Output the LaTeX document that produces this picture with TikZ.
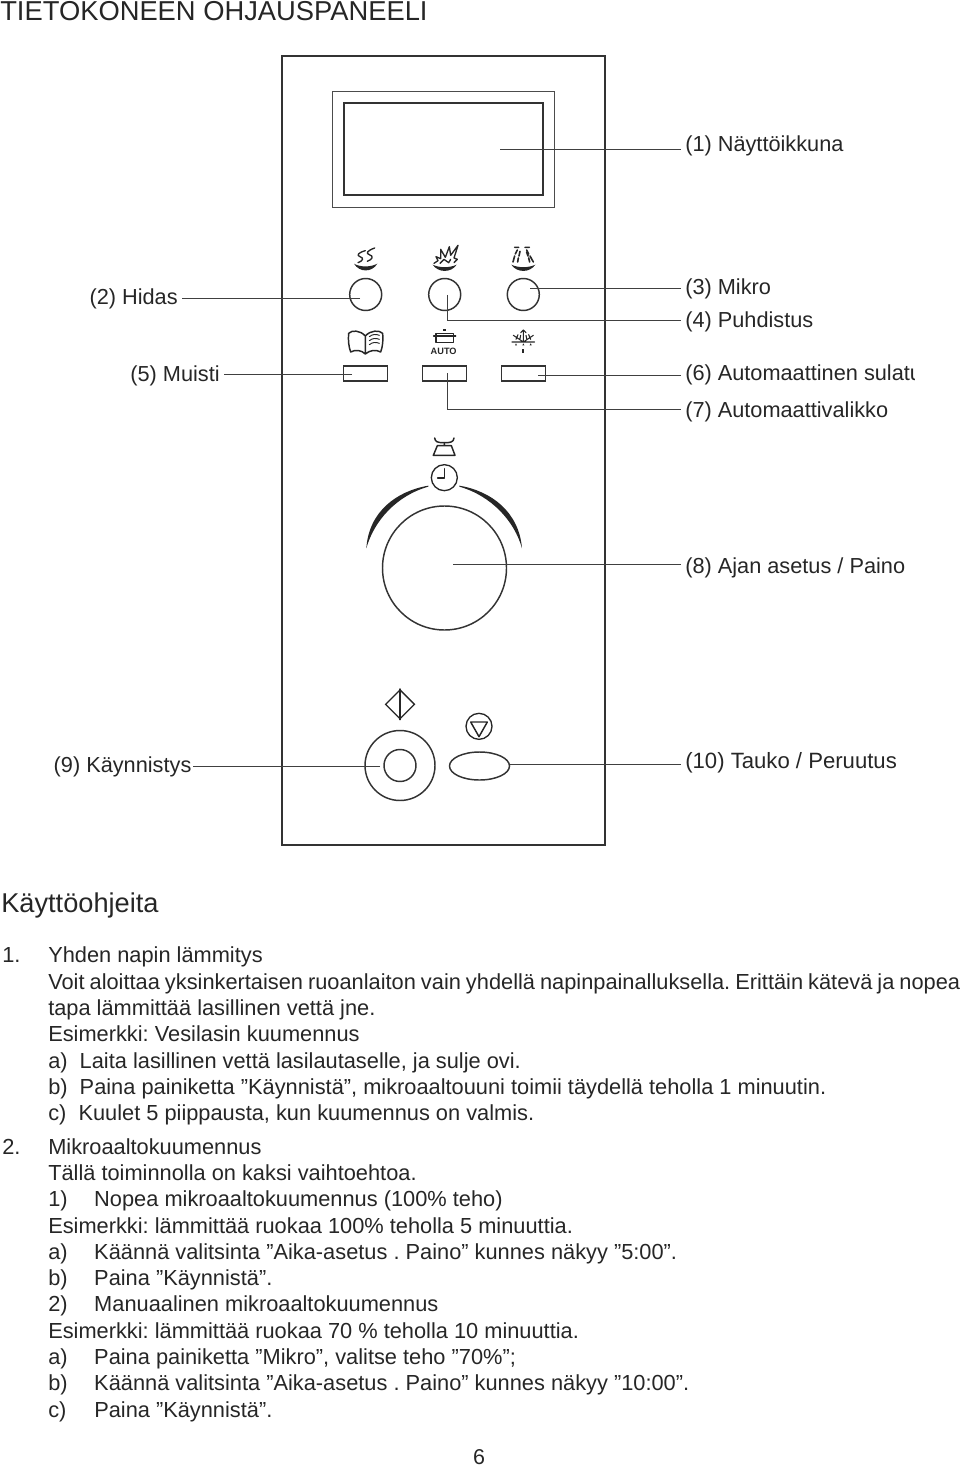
\documentclass[tikz,border=0pt]{standalone}
\usepackage{fontspec}
\setsansfont{Liberation Sans}
\usetikzlibrary{positioning,calc,shapes.geometric}
\newcommand{\itemno}[1]{\makebox[34.5pt][l]{#1}}
\frenchspacing

\begin{document}
\begin{tikzpicture}[
    x=0.75pt, y=-0.75pt,
    font=\sffamily,
    every node/.style={text=black!85},
    panelLine/.style={draw=black!80, line width=1.1pt},
    iconLine/.style={draw=black!85, line width=1pt, line cap=round, line join=round},
    leader/.style={draw=black!75, line width=0.7pt},
    roundBtn/.style={circle, panelLine, minimum size=24pt, inner sep=0pt},
    rectBtn/.style={rectangle, panelLine, minimum width=33pt, minimum height=11pt, inner sep=0pt},
    partLabel/.style={font=\sffamily\fontsize{16.3}{18}\selectfont, text height=12pt, text depth=3pt, inner sep=3pt},
    bodyText/.style={font=\sffamily\fontsize{16.35}{19.73}\selectfont, align=left, inner sep=0pt, anchor=north west}
]
\useasboundingbox (0,0) rectangle (960,1469);

% Headings
\node[font=\sffamily\fontsize{20.5}{22}\selectfont, anchor=base west, inner sep=0pt] (title) at (0,20.5) {TIETOKONEEN OHJAUSPANEELI};
\node[font=\sffamily\fontsize{20.4}{22}\selectfont, anchor=base west, inner sep=0pt] (usage) at (1,912) {Käyttöohjeita};

% Panel and display
\node[rectangle, panelLine, line width=1.5pt, minimum width=242pt, minimum height=591pt, inner sep=0pt] (panel) at (443.5,450.5) {};
\node[rectangle, draw=black!70, line width=0.6pt, minimum width=167pt, minimum height=87pt, inner sep=0pt] (frame) at (443.5,149) {};
\node[rectangle, panelLine, line width=1.5pt, minimum width=149pt, minimum height=69pt, inner sep=0pt] (display) at (443.5,149) {};

% Buttons
\node[roundBtn] (btnSlow) at (365.7,294.5) {};
\node[roundBtn] (btnMicro) at (444.7,294.5) {};
\node[roundBtn] (btnClean) at (523.3,294.5) {};
\node[rectBtn] (btnMemory) at (365.7,373.5) {};
\node[rectBtn] (btnAuto) at (444.7,373.5) {};
\node[rectBtn] (btnDefrost) at (523.5,373.5) {};
\node[circle, panelLine, minimum size=93pt, inner sep=0pt] (dial) at (444.5,568) {};
\node[circle, panelLine, minimum size=52.5pt, inner sep=0pt] (btnStart) at (400,765.5) {};
\node[circle, panelLine, minimum size=24pt, inner sep=0pt] (btnStartIn) at (400,765.5) {};
\node[ellipse, panelLine, minimum width=45pt, minimum height=21pt, inner sep=0pt] (btnStop) at (479.5,766) {};

% Labels
\node[partLabel, anchor=west] (lblDisplay) at (681,145.5) {(1) Näyttöikkuna};
\node[partLabel, anchor=east] (lblSlow) at (182,298.5) {(2) Hidas};
\node[partLabel, anchor=west] (lblMicro) at (681,289) {(3) Mikro};
\node[partLabel, anchor=west] (lblClean) at (681,321.5) {(4) Puhdistus};
\node[partLabel, anchor=east] (lblMemory) at (224,375) {(5) Muisti};
\begin{scope}
    \clip (600,350) rectangle (914,395);
    \node[partLabel, anchor=west] (lblDefrost) at (681,374.5) {(6) Automaattinen sulatus};
\end{scope}
\node[partLabel, anchor=west] (lblAuto) at (681,411) {(7) Automaattivalikko};
\node[partLabel, anchor=west] (lblTime) at (681,567) {(8) Ajan asetus / Paino};
\node[partLabel, anchor=east, inner sep=1pt] (lblStart) at (193,766.5) {(9) Käynnistys};
\node[partLabel, anchor=west, font=\sffamily\fontsize{16.6}{18}\selectfont] (lblStop) at (681,762.5) {(10) Tauko / Peruutus};

% Leader ends inside the controls
\coordinate (endDisplay) at (500,149);
\coordinate (endSlow) at (360,298);
\coordinate (endMicro) at (447,295);
\coordinate (tapMicro) at (681,320);
\coordinate (endClean) at (530,288);
\coordinate (endMemory) at (352,374.7);
\coordinate (endDefrost) at (538,375);
\coordinate (endAuto) at (447,373);
\coordinate (tapAuto) at (681,409);
\coordinate (endTime) at (453,564);
\coordinate (endStart) at (380,766);
\coordinate (endStop) at (509.5,764);

% Leaders
\draw[leader] (endDisplay) -- (endDisplay -| lblDisplay.west);
\draw[leader] (endSlow) -- (endSlow -| lblSlow.east);
\draw[leader] (endMicro) |- (tapMicro);
\draw[leader] (endClean) -- (endClean -| lblMicro.west);
\draw[leader] (endMemory) -- (endMemory -| lblMemory.east);
\draw[leader] (endDefrost) -- (endDefrost -| lblDefrost.west);
\draw[leader] (endAuto) |- (tapAuto);
\draw[leader] (endTime) -- (endTime -| lblTime.west);
\draw[leader] (endStart) -- (endStart -| lblStart.east);
\draw[leader] (endStop) -- (endStop -| lblStop.west);

% Top icons, in crop coordinates
\begin{scope}[shift={(280,230)}, x=0.25pt, y=-0.25pt]
    % slow
    \draw[iconLine] (256,62) .. controls (235,68) and (228,76) .. (240,80) .. controls (252,84) and (250,92) .. (234,98);
    \draw[iconLine] (284,54) .. controls (262,62) and (256,70) .. (268,74) .. controls (282,78) and (278,88) .. (262,94);
    \fill[black!85] (222,101) .. controls (240,112) and (272,112) .. (292,101) .. controls (276,128) and (238,128) .. (222,101) -- cycle;
    % micro
    \draw[iconLine] (462,100) -- (474,92) -- (468,80) -- (482,86) -- (482,58) -- (496,82) -- (508,50) -- (512,76) -- (534,46) -- (522,84) -- (532,88) -- (522,98);
    \draw[iconLine] (480,100) -- (492,88) -- (506,98) -- (512,88);
    \fill[black!85] (458,104) .. controls (478,114) and (510,114) .. (530,104) .. controls (514,129) and (474,129) .. (458,104) -- cycle;
    % clean
    \draw[iconLine, line width=1.2pt] (716,52) -- (704,52) (712,60) -- (706,72) (704,78) -- (699,96) (720,64) -- (717,78) (715,84) -- (713,96);
    \draw[iconLine, line width=1.2pt] (735,52) -- (748,52) (740,60) -- (746,72) (750,78) -- (760,96) (740,66) -- (744,78) (746,84) -- (749,96);
    \fill[black!85] (694,104) .. controls (714,114) and (746,114) .. (766,104) .. controls (750,129) and (710,129) .. (694,104) -- cycle;
    % memory book
    \draw[iconLine, line width=1.1pt] (256,318) .. controls (240,300) and (215,300) .. (206,310) .. controls (204,330) and (206,350) .. (212,366) .. controls (226,358) and (244,360) .. (256,372) .. controls (270,360) and (288,358) .. (302,366) .. controls (308,350) and (310,330) .. (308,310) .. controls (298,300) and (272,300) .. (256,318) -- (256,372);
    \draw[iconLine, line width=0.7pt] (268,320) .. controls (278,312) and (288,312) .. (298,316) (268,332) .. controls (278,324) and (288,324) .. (298,328) (268,344) .. controls (278,336) and (288,336) .. (298,340);
    % auto pot
    \draw[iconLine, line width=1.1pt] (468,310) rectangle (520,338);
    \draw[iconLine, line width=1.1pt] (461,318) -- (527,318);
    \fill[black!85] (489,298) rectangle (498,304);
    \node[font=\sffamily\bfseries\fontsize{6.9}{8}\selectfont, inner sep=0pt] (autoText) at (491,363) {AUTO};
    % defrost
    \draw[iconLine, line width=0.8pt] (696,336) -- (764,336) (730,300) -- (730,336) (700,316) -- (730,336) -- (760,316) (722,308) -- (730,300) -- (738,308) (708,328) -- (714,314) (752,328) -- (746,314) (720,326) -- (722,316) (740,326) -- (738,316);
    \foreach \dropx in {708,730,752} {
        \fill[black!85] (\dropx,340) -- ++(3,6) -- ++(-6,0) -- cycle;
    }
    \fill[black!85] (727,358) rectangle (733,368);
\end{scope}

% Dial icons
\begin{scope}[shift={(340,430)}, x=0.25pt, y=-0.25pt]
    \draw[iconLine, line width=1.1pt] (284,24) .. controls (286,36) and (292,38) .. (313,38) .. controls (334,38) and (340,36) .. (342,24);
    \draw[iconLine, line width=1.1pt] (313,38) -- (313,47) (292,47) -- (334,47) -- (345,76) -- (280,76) -- cycle;
    \node[circle, draw=black!85, line width=1pt, minimum size=19.5pt, inner sep=0pt] (clock) at (313,143) {};
    \draw[iconLine, line width=1.1pt] (313,116) -- (313,144) -- (293,144);
    \fill[black!85] (265,167) .. controls (170,183) and (86,245) .. (79,355) .. controls (102,272) and (170,197) .. (265,170) -- cycle;
    \fill[black!85] (358,167) .. controls (453,183) and (537,245) .. (546,355) .. controls (523,272) and (453,197) .. (358,170) -- cycle;
\end{scope}

% Start and stop icons
\begin{scope}[shift={(340,680)}, x=0.25pt, y=-0.25pt]
    \node[diamond, draw=black!85, line width=1pt, minimum size=22pt, inner sep=0pt, shape aspect=1] (iconStart) at (180,73) {};
    \draw[iconLine, line width=1.1pt] (iconStart.north) -- (iconStart.south);
    \node[circle, draw=black!85, line width=1pt, minimum size=19.5pt, inner sep=0pt] (iconStop) at (417,139) {};
    \draw[iconLine, line width=1.1pt] (392,126) -- (442,126) -- (417,170) -- cycle;
\end{scope}

% Instructions
\node[bodyText] (no1) at (2,944.2) {\strut 1.};
\node[bodyText] (part1) at (48,944.2) {\strut Yhden napin lämmitys\\
\makebox[684pt][s]{Voit aloittaa yksinkertaisen ruoanlaiton vain yhdellä napinpainalluksella. Erittäin kätevä ja nopea}\\
tapa lämmittää lasillinen vettä jne.\\
Esimerkki: Vesilasin kuumennus\\
a)\ \ Laita lasillinen vettä lasilautaselle, ja sulje ovi.\\
b)\ \ Paina painiketta ”Käynnistä”, mikroaaltouuni toimii täydellä teholla 1 minuutin.\\
c)\ \ Kuulet 5 piippausta, kun kuumennus on valmis.};
\node[bodyText] (no2) at (2,1135.4) {\strut 2.};
\node[bodyText] (part2) at (48,1135.4) {\strut Mikroaaltokuumennus\\
Tällä toiminnolla on kaksi vaihtoehtoa.\\
\itemno{1)}Nopea mikroaaltokuumennus (100\% teho)\\
Esimerkki: lämmittää ruokaa 100\% teholla 5 minuuttia.\\
\itemno{a)}Käännä valitsinta ”Aika-asetus . Paino” kunnes näkyy ”5:00”.\\
\itemno{b)}Paina ”Käynnistä”.\\
\itemno{2)}Manuaalinen mikroaaltokuumennus\\
Esimerkki: lämmittää ruokaa 70 \% teholla 10 minuuttia.\\
\itemno{a)}Paina painiketta ”Mikro”, valitse teho ”70\%”;\\
\itemno{b)}Käännä valitsinta ”Aika-asetus . Paino” kunnes näkyy ”10:00”.\\
\itemno{c)}Paina ”Käynnistä”.};
\node[font=\sffamily\fontsize{16.1}{18}\selectfont, anchor=base, inner sep=0pt] (pageNo) at (479,1464) {6};

\end{tikzpicture}
\end{document}
